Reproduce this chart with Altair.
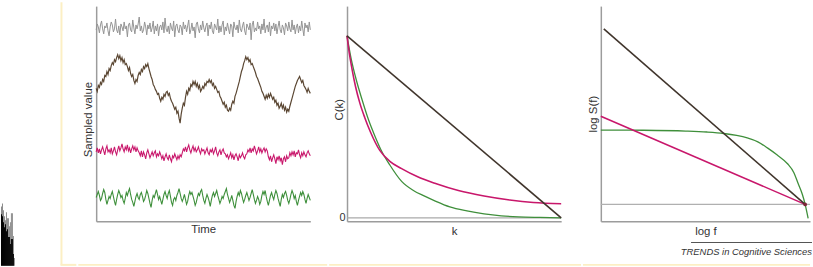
import altair as alt
import pandas as pd

FONT = "Liberation Sans"
AXIS_GRAY = "#9c9c9c"
FRAME = "#fcefc4"
TXT = "#333333"

# ---------------- Panel 1: sampled time series ----------------
white_dev = [-2,4,1,-5,3,7,-1,-6,2,0,5,-3,-8,1,6,3,-4,-1,9,-2,
             -5,2,-7,4,1,-3,6,-1,2,-9,3,5,-2,-4,8,0,-6,3,-1,4,
             11,-3,2,-5,-2,6,1,-7,3,-1,5,-4,0,7,-6,2,-3,4,-8,1,
             3,-2,6,-5,10,-1,-4,2,-6,5,0,-3,7,-9,2,4,-2,-5,3,1,
             -7,6,-1,3,-4,2,8,-6,-2,5,-3,1,-10,4,6,-1,-5,3,-2,7,
             0,-4,2,5,-8,3,-1,6,-3,-6,4,1,-2,9,-5,2,-4,3,7,-7,
             1,-3,5,-1,-6,4,2,-9,6,0,-2,3,-5,8,-1,-4,2,6,-3,-7,
             4,1,-2,5,-12,3,7,-4,0,-3,6,-1,2,-6,4,-2,9,-5,1,3,
             -4,6,-8,2,-1,5,-3,4,-6,1,7,-2,-5,3,0,-7,5,2,-3,6,
             -1,-4,8,-2,3,-6,1,4,-5,2,-3,7,-1,-8,5,0,3,-4,6,-2]
brown_vals = [134,131,137,135,140,138,143,141,147,146,151,
              148,154,152,157,160,158,163,161,165,168,
              164,167,162,165,160,163,158,159,
              156,152,155,149,146,148,142,139,
              143,141,147,150,148,153,
              151,156,154,158,156,159,
              154,150,146,143,138,136,
              133,131,128,129,124,121,
              125,123,128,126,130,131,
              127,129,124,121,119,116,
              113,115,109,111,104,99,
              108,114,119,117,125,131,
              128,134,132,138,136,141,
              138,141,136,139,134,137,131,133,
              136,134,139,137,141,140,143,
              140,142,137,139,134,136,
              133,130,131,126,124,121,
              118,120,115,117,112,111,
              114,112,118,121,119,126,
              129,133,137,141,146,151,
              154,159,162,166,
              163,165,161,163,158,159,
              156,153,150,146,144,141,
              138,135,131,129,126,123,
              127,124,128,125,129,126,
              123,125,120,122,117,119,114,116,
              119,114,117,112,115,110,113,111,
              116,120,124,128,132,136,
              139,142,144,146,
              143,140,142,137,135,133,
              130,134,131,129]
pink_dev = [1,5,0,4,-1,3,6,2,-2,4,7,1,3,0,5,-1,2,6,1,-2,
            3,7,2,5,9,4,1,6,3,8,2,5,0,4,7,3,6,1,5,2,
            0,-3,2,-4,1,-2,-6,0,3,-1,-5,-2,1,-3,0,2,-4,-1,-3,1,
            -2,-6,-3,-8,-4,-1,-5,-7,-2,-6,-9,-3,-5,-1,-4,-7,-3,-6,-2,-4,
            0,4,2,6,1,5,8,3,0,4,7,2,5,1,3,6,2,-1,4,2,
            3,-1,2,5,0,-2,3,1,4,-1,2,6,0,-3,1,3,-2,2,4,0,
            -1,-4,-2,-6,-3,0,-5,-2,-7,-3,-1,-4,-8,-2,-5,-3,0,-4,-6,-2,
            -1,3,1,5,0,4,2,7,3,-1,2,6,1,4,0,3,5,1,4,2,
            -4,-7,-3,-9,-5,-2,-6,-11,-4,-7,-3,-8,-5,-12,-6,-4,-9,-3,-6,-5,
            0,-3,1,-2,2,-4,0,-1,3,-2,-5,0,-3,1,-2,-4,0,2,-1,-3]
green_dev = [0,3,6,2,-3,-1,4,8,5,-2,-7,-3,1,-1,3,6,1,-4,-8,-2,
             3,7,4,0,2,-3,-6,-1,5,2,6,9,3,-2,-5,-9,-4,1,4,0,
             -2,3,5,1,-4,-2,2,7,4,-1,-6,-10,-3,2,0,4,8,3,-2,1,
             -3,-7,-2,3,6,2,-1,4,7,1,-5,-8,-2,0,-3,2,5,9,4,-1,
             -4,-1,3,-2,-7,-4,2,6,3,5,1,-3,-8,-5,0,4,2,6,8,2,
             -3,-6,-1,3,0,-4,-9,-3,2,5,1,4,7,2,-2,-6,-3,1,-1,3,
             6,9,3,-1,-5,-2,2,-3,-8,-11,-4,1,5,2,7,4,-1,-5,-2,2,
             5,1,-3,0,4,8,3,-2,-6,-3,1,-2,-7,-4,2,6,3,7,1,-4,
             -8,-3,2,5,1,-2,3,7,4,-1,-5,-9,-2,3,0,4,6,2,-3,-6,
             -2,3,7,4,-1,2,-4,-8,-3,1,5,2,6,3,-2,-6,-1,3,0,-3]
trace_levels = {"white": 195, "pink": 69, "green": 24}

trace_style = {"white": ("#939393", 1.0), "brown": ("#5b4733", 1.2),
               "pink": ("#c9186c", 1.1), "green": ("#3d8f3a", 1.1)}

# ---------------- Panel 2: autocorrelation C(k) ----------------
ck_brown_k = [0, 1]
ck_brown_c = [1, 0]
ck_pink_k = [0, 0.01, 0.023, 0.04, 0.06, 0.083, 0.11, 0.153, 0.2, 0.255, 0.33, 0.41, 0.52, 0.64, 0.76, 0.87, 1.0]
ck_pink_c = [1, 0.91, 0.82, 0.72, 0.63, 0.55, 0.47, 0.37, 0.31, 0.27, 0.225, 0.19, 0.15, 0.12, 0.098, 0.084, 0.077]
ck_green_k = [0, 0.02, 0.045, 0.07, 0.1, 0.13, 0.16, 0.2, 0.255, 0.31, 0.36, 0.41, 0.48, 0.56, 0.64, 0.72, 0.8, 0.9, 1.0]
ck_green_c = [1, 0.87, 0.75, 0.65, 0.54, 0.45, 0.37, 0.29, 0.20, 0.15, 0.12, 0.093, 0.06, 0.038, 0.022, 0.011, 0.005, 0.002, 0.0]

# ---------------- Panel 3: power spectrum log S(f) ----------------
sf_brown_f = [0.014, 0.963]
sf_brown_s = [194, 17]
sf_pink_f = [0, 0.963]
sf_pink_s = [106, 17]
sf_green_f = [0, 0.2, 0.4, 0.5, 0.58, 0.64, 0.69, 0.74, 0.785, 0.83, 0.88, 0.91, 0.93, 0.95, 0.963, 0.977]
sf_green_s = [92, 91.8, 91, 90, 88.5, 86.5, 84, 80, 74, 67, 58, 49, 38, 27, 17, 3]
noise_floor = [17]
meet_f = [0.963]
meet_s = [17]

line_style = {"brown": ("#40352c", 1.6), "pink": ("#c8176b", 1.6), "green": ("#3f8f3b", 1.3)}

# ---------------- Cropped histogram fragment (bottom left) ----------------
hist_bin = list(range(14))
hist_gray = [60, 63, 56, 50, 46, 54, 48, 48, 40, 44, 53, 53, 30, 8]
hist_black = [52, 50, 44, 39, 42, 35, 37, 29, 29, 22, 27, 27, 12, 0]

caption = ["TRENDS in Cognitive Sciences"]

# ======================================================================
one = pd.DataFrame({"a": [0]})


def frame_rect(x1, x2, y1, y2, color=FRAME):
    return alt.Chart(one).mark_rect(color=color).encode(
        x=alt.value(x1), x2=alt.value(x2), y=alt.value(y1), y2=alt.value(y2))


axis_common = dict(labels=False, ticks=False, grid=False, domainColor=AXIS_GRAY, domainWidth=1.5,
                   titleFont=FONT, titleFontSize=11.5, titleFontWeight="normal", titleColor=TXT)

# ---- panel 0 (cropped neighbouring figure)
hist = pd.DataFrame({"bin": hist_bin, "bin_end": [b + 1 for b in hist_bin],
                     "gray": hist_gray, "black": hist_black})
xh = alt.X("bin:Q", scale=alt.Scale(domain=[0, 76], nice=False, zero=False), axis=None)
yh = alt.Scale(domain=[0, 262], nice=False)
p0 = alt.layer(
    alt.Chart(hist).mark_rect(color="#8a8a8a").encode(
        x=xh, x2="bin_end:Q", y=alt.Y("gray:Q", scale=yh, axis=None), y2=alt.datum(0)),
    alt.Chart(hist).mark_rect(color="#000000").encode(
        x=xh, x2="bin_end:Q", y=alt.Y("black:Q", scale=yh, axis=None), y2=alt.datum(0)),
    frame_rect(60, 62, -4, 261),
    frame_rect(60, 76, 260, 262),
).properties(width=76, height=262)

# ---- panel 1
series_data = {}
for name, dev in [("white", white_dev), ("pink", pink_dev), ("green", green_dev)]:
    n = len(dev)
    series_data[name] = pd.DataFrame({"t": [i / (n - 1) for i in range(n)],
                                      "v": [trace_levels[name] + d for d in dev]})
nb = len(brown_vals)
series_data["brown"] = pd.DataFrame({"t": [i / (nb - 1) for i in range(nb)], "v": brown_vals})

x1_enc = alt.X("t:Q", scale=alt.Scale(domain=[0, 1], nice=False),
               axis=alt.Axis(title="Time", titlePadding=2, **axis_common))
y1_enc = alt.Y("v:Q", scale=alt.Scale(domain=[0, 217], nice=False),
               axis=alt.Axis(title="Sampled value", titlePadding=3, titleY=114, **axis_common))
p1_layers = []
for name in ["white", "brown", "pink", "green"]:
    col, w = trace_style[name]
    p1_layers.append(alt.Chart(series_data[name]).mark_line(color=col, strokeWidth=w).encode(x=x1_enc, y=y1_enc))
p1 = alt.layer(*p1_layers, frame_rect(-18, 233, 260, 262)).properties(width=216, height=217)

# ---- panel 2
y2_enc = alt.Y("C:Q", scale=alt.Scale(domain=[-0.019, 1.163], nice=False),
               axis=alt.Axis(title="C(k)", values=[0], labelFont=FONT, labelFontSize=11, labelColor=TXT,
                             labelPadding=2, titlePadding=-6, titleY=104,
                             **{**axis_common, "labels": True}))
x2_enc = alt.X("k:Q", scale=alt.Scale(domain=[0, 1], nice=False),
               axis=alt.Axis(title="k", titlePadding=4, **axis_common))
p2_layers = [alt.Chart(pd.DataFrame({"C": [0]})).mark_rule(color="#aaaaaa", strokeWidth=1.2).encode(y=y2_enc)]
for name, ks, cs in [("green", ck_green_k, ck_green_c), ("pink", ck_pink_k, ck_pink_c),
                     ("brown", ck_brown_k, ck_brown_c)]:
    col, w = line_style[name]
    p2_layers.append(alt.Chart(pd.DataFrame({"k": ks, "C": cs})).mark_line(
        interpolate="monotone", color=col, strokeWidth=w).encode(x=x2_enc, y=y2_enc))
p2 = alt.layer(*p2_layers, frame_rect(-18, 236, 260, 262)).properties(width=216, height=217)

# ---- panel 3
y3_enc = alt.Y("S:Q", scale=alt.Scale(domain=[0, 217], nice=False),
               axis=alt.Axis(title="log S(f)", titlePadding=2, **axis_common))
x3_enc = alt.X("f:Q", scale=alt.Scale(domain=[0, 0.986], nice=False),
               axis=alt.Axis(title="log f", titlePadding=4, **axis_common))
p3_layers = [alt.Chart(pd.DataFrame({"S": noise_floor})).mark_rule(color="#b0b0b0", strokeWidth=1.2).encode(y=y3_enc)]
for name, fs, ss in [("green", sf_green_f, sf_green_s), ("pink", sf_pink_f, sf_pink_s),
                     ("brown", sf_brown_f, sf_brown_s)]:
    col, w = line_style[name]
    p3_layers.append(alt.Chart(pd.DataFrame({"f": fs, "S": ss})).mark_line(
        interpolate="monotone", color=col, strokeWidth=w).encode(x=x3_enc, y=y3_enc))
p3_meet = alt.Chart(pd.DataFrame({"f": meet_f, "S": meet_s})).mark_point(
    filled=True, size=14, color="#7d2436", opacity=1).encode(x=x3_enc, y=y3_enc)
p3_caption = alt.Chart(pd.DataFrame({"cap": caption})).mark_text(
    align="right", baseline="alphabetic", font=FONT, fontSize=9.5, fontStyle="italic", color=TXT).encode(
    x=alt.value(213), y=alt.value(251), text="cap:N")
p3 = alt.layer(*p3_layers, p3_meet, p3_caption,
               frame_rect(91, 213, 238, 239, color="#555555"),
               frame_rect(-18, 211, 260, 262)).properties(width=211, height=217)

chart = alt.hconcat(p0, p1, p2, p3, spacing=0).configure_view(stroke="transparent").properties(
    padding=0, background="white")

chart.save("out.html", embed_options={"renderer": "svg", "actions": False})
